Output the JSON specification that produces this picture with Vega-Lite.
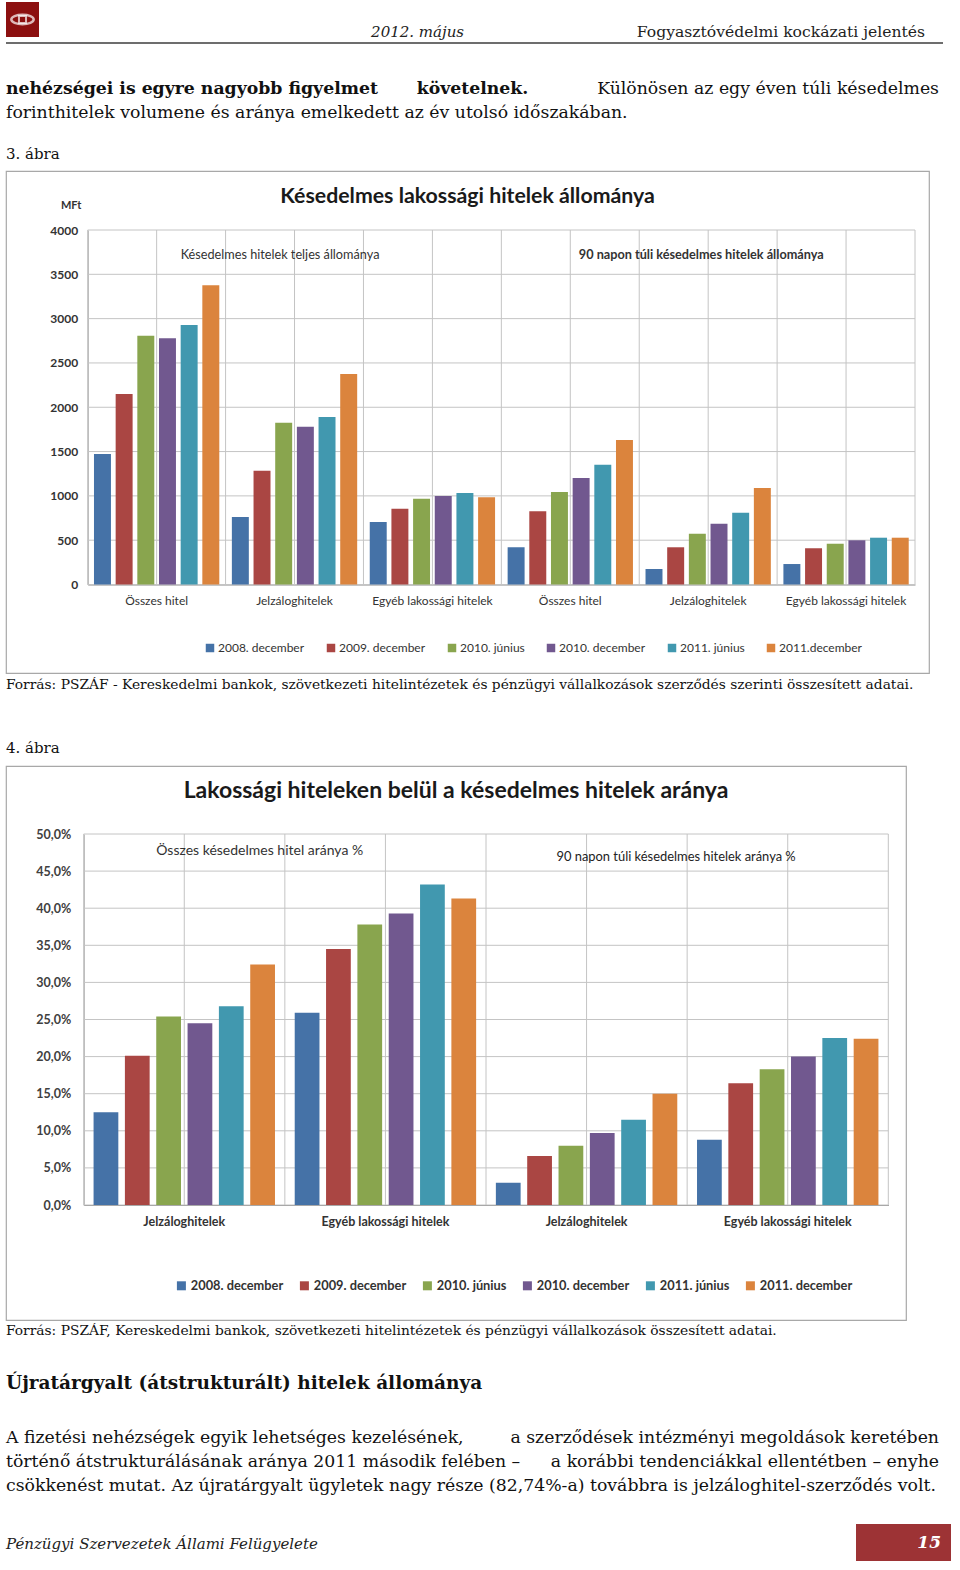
{
 "$schema": "https://vega.github.io/schema/vega-lite/v6.json",
 "background": "white",
 "padding": {"left": 5, "top": 2, "right": 5, "bottom": 4},
 "bounds": "flush",
 "spacing": 0,
 "resolve": {"scale": {"color": "independent", "xOffset": "independent"}, "legend": {"color": "independent"}},
 "config": {"view": {"stroke": null}},
 "datasets": {
  "bars1": [
   {"grp": "a|Összes hitel", "period": "2008. december", "value": 1473},
   {"grp": "a|Összes hitel", "period": "2009. december", "value": 2150},
   {"grp": "a|Összes hitel", "period": "2010. június", "value": 2808},
   {"grp": "a|Összes hitel", "period": "2010. december", "value": 2779},
   {"grp": "a|Összes hitel", "period": "2011. június", "value": 2929},
   {"grp": "a|Összes hitel", "period": "2011.december", "value": 3377},
   {"grp": "b|Jelzáloghitelek", "period": "2008. december", "value": 762},
   {"grp": "b|Jelzáloghitelek", "period": "2009. december", "value": 1284},
   {"grp": "b|Jelzáloghitelek", "period": "2010. június", "value": 1826},
   {"grp": "b|Jelzáloghitelek", "period": "2010. december", "value": 1781},
   {"grp": "b|Jelzáloghitelek", "period": "2011. június", "value": 1890},
   {"grp": "b|Jelzáloghitelek", "period": "2011.december", "value": 2376},
   {"grp": "c|Egyéb lakossági hitelek", "period": "2008. december", "value": 705},
   {"grp": "c|Egyéb lakossági hitelek", "period": "2009. december", "value": 856},
   {"grp": "c|Egyéb lakossági hitelek", "period": "2010. június", "value": 968},
   {"grp": "c|Egyéb lakossági hitelek", "period": "2010. december", "value": 999},
   {"grp": "c|Egyéb lakossági hitelek", "period": "2011. június", "value": 1033},
   {"grp": "c|Egyéb lakossági hitelek", "period": "2011.december", "value": 984},
   {"grp": "d|Összes hitel", "period": "2008. december", "value": 420},
   {"grp": "d|Összes hitel", "period": "2009. december", "value": 826},
   {"grp": "d|Összes hitel", "period": "2010. június", "value": 1044},
   {"grp": "d|Összes hitel", "period": "2010. december", "value": 1202},
   {"grp": "d|Összes hitel", "period": "2011. június", "value": 1352},
   {"grp": "d|Összes hitel", "period": "2011.december", "value": 1631},
   {"grp": "e|Jelzáloghitelek", "period": "2008. december", "value": 175},
   {"grp": "e|Jelzáloghitelek", "period": "2009. december", "value": 420},
   {"grp": "e|Jelzáloghitelek", "period": "2010. június", "value": 573},
   {"grp": "e|Jelzáloghitelek", "period": "2010. december", "value": 686},
   {"grp": "e|Jelzáloghitelek", "period": "2011. június", "value": 810},
   {"grp": "e|Jelzáloghitelek", "period": "2011.december", "value": 1089},
   {"grp": "f|Egyéb lakossági hitelek", "period": "2008. december", "value": 231},
   {"grp": "f|Egyéb lakossági hitelek", "period": "2009. december", "value": 409},
   {"grp": "f|Egyéb lakossági hitelek", "period": "2010. június", "value": 460},
   {"grp": "f|Egyéb lakossági hitelek", "period": "2010. december", "value": 499},
   {"grp": "f|Egyéb lakossági hitelek", "period": "2011. június", "value": 528},
   {"grp": "f|Egyéb lakossági hitelek", "period": "2011.december", "value": 528}
  ],
  "bars2": [
   {"grp": "a|Jelzáloghitelek", "period": "2008. december", "value": 12.5},
   {"grp": "a|Jelzáloghitelek", "period": "2009. december", "value": 20.1},
   {"grp": "a|Jelzáloghitelek", "period": "2010. június", "value": 25.4},
   {"grp": "a|Jelzáloghitelek", "period": "2010. december", "value": 24.5},
   {"grp": "a|Jelzáloghitelek", "period": "2011. június", "value": 26.8},
   {"grp": "a|Jelzáloghitelek", "period": "2011. december", "value": 32.4},
   {"grp": "b|Egyéb lakossági hitelek", "period": "2008. december", "value": 25.9},
   {"grp": "b|Egyéb lakossági hitelek", "period": "2009. december", "value": 34.5},
   {"grp": "b|Egyéb lakossági hitelek", "period": "2010. június", "value": 37.8},
   {"grp": "b|Egyéb lakossági hitelek", "period": "2010. december", "value": 39.3},
   {"grp": "b|Egyéb lakossági hitelek", "period": "2011. június", "value": 43.2},
   {"grp": "b|Egyéb lakossági hitelek", "period": "2011. december", "value": 41.3},
   {"grp": "c|Jelzáloghitelek", "period": "2008. december", "value": 3.0},
   {"grp": "c|Jelzáloghitelek", "period": "2009. december", "value": 6.6},
   {"grp": "c|Jelzáloghitelek", "period": "2010. június", "value": 8.0},
   {"grp": "c|Jelzáloghitelek", "period": "2010. december", "value": 9.7},
   {"grp": "c|Jelzáloghitelek", "period": "2011. június", "value": 11.5},
   {"grp": "c|Jelzáloghitelek", "period": "2011. december", "value": 15.0},
   {"grp": "d|Egyéb lakossági hitelek", "period": "2008. december", "value": 8.8},
   {"grp": "d|Egyéb lakossági hitelek", "period": "2009. december", "value": 16.4},
   {"grp": "d|Egyéb lakossági hitelek", "period": "2010. június", "value": 18.3},
   {"grp": "d|Egyéb lakossági hitelek", "period": "2010. december", "value": 20.0},
   {"grp": "d|Egyéb lakossági hitelek", "period": "2011. június", "value": 22.5},
   {"grp": "d|Egyéb lakossági hitelek", "period": "2011. december", "value": 22.4}
  ],
  "grid1h": [{"value": 0}, {"value": 500}, {"value": 1000}, {"value": 1500}, {"value": 2000}, {"value": 2500}, {"value": 3000}, {"value": 3500}, {"value": 4000}],
  "grid1v": [{"k": 0}, {"k": 1}, {"k": 2}, {"k": 3}, {"k": 4}, {"k": 5}, {"k": 6}, {"k": 7}, {"k": 8}, {"k": 9}, {"k": 10}, {"k": 11}, {"k": 12}],
  "grid2h": [{"value": 0}, {"value": 5}, {"value": 10}, {"value": 15}, {"value": 20}, {"value": 25}, {"value": 30}, {"value": 35}, {"value": 40}, {"value": 45}, {"value": 50}],
  "grid2v": [{"k": 0}, {"k": 1}, {"k": 2}, {"k": 3}, {"k": 4}, {"k": 5}, {"k": 6}, {"k": 7}, {"k": 8}]
 },
 "vconcat": [
  {
   "hconcat": [
    {
     "width": 33, "height": 35,
     "view": {"fill": "#8c1010", "stroke": null},
     "data": {"values": [{"s": "logo"}]},
     "layer": [
      {"mark": {"type": "point", "shape": "M -1 0 A 1 0.42 0 1 0 1 0 A 1 0.42 0 1 0 -1 0 Z", "size": 500, "filled": false, "color": "white", "strokeWidth": 2.5}, "encoding": {}},
      {"mark": {"type": "point", "shape": "square", "size": 50, "filled": false, "color": "white", "strokeWidth": 2}, "encoding": {}}
     ]
    },
    {
     "width": 425, "height": 35,
     "data": {"values": [{"t": "2012. május"}]},
     "mark": {"type": "text", "align": "right", "baseline": "alphabetic", "font": "DejaVu Serif", "fontStyle": "italic", "fontSize": 15, "color": "#222"},
     "encoding": {
      "x": {"datum": 1, "type": "quantitative", "scale": {"domain": [0, 1]}, "axis": null},
      "y": {"datum": 0, "type": "quantitative", "scale": {"domain": [0, 1]}, "axis": null},
      "text": {"field": "t"}
     }
    },
    {
     "width": 461, "height": 35,
     "data": {"values": [{"t": "Fogyasztóvédelmi kockázati jelentés"}]},
     "mark": {"type": "text", "align": "right", "baseline": "alphabetic", "font": "DejaVu Serif", "fontSize": 15.6, "color": "#222"},
     "encoding": {
      "x": {"datum": 1, "type": "quantitative", "scale": {"domain": [0, 1]}, "axis": null},
      "y": {"datum": 0, "type": "quantitative", "scale": {"domain": [0, 1]}, "axis": null},
      "text": {"field": "t"}
     }
    }
   ],
   "spacing": 0,
   "bounds": "flush"
  },
  {
   "width": 10, "height": 35,
   "data": {"values": [{"s": 0}]},
   "mark": {"type": "point", "opacity": 0},
   "encoding": {}
  },
  {
   "width": 937, "height": 6,
   "data": {"values": [{"d": 0}]},
   "mark": {"type": "rule", "color": "#3c3c3c", "strokeWidth": 1.6},
   "encoding": {"y": {"datum": 0, "type": "quantitative", "scale": {"domain": [0, 1]}, "axis": null}}
  },
  {
   "width": 933, "height": 51,
   "layer": [
    {
     "data": {"values": [{"t": "nehézségei is egyre nagyobb figyelmet"}]},
     "mark": {"type": "text", "align": "left", "baseline": "alphabetic", "font": "DejaVu Serif", "fontWeight": "bold", "fontSize": 17.3, "color": "#111"},
     "encoding": {
      "x": {"datum": 0, "type": "quantitative", "scale": {"domain": [0, 1]}, "axis": null},
      "y": {"datum": 0, "type": "quantitative", "scale": {"domain": [0, 1]}, "axis": null},
      "text": {"field": "t"}
     }
    },
    {
     "data": {"values": [{"t": "követelnek."}]},
     "mark": {"type": "text", "align": "center", "baseline": "alphabetic", "font": "DejaVu Serif", "fontWeight": "bold", "fontSize": 17.3, "color": "#111"},
     "encoding": {
      "y": {"datum": 0, "type": "quantitative", "scale": {"domain": [0, 1]}, "axis": null},
      "text": {"field": "t"}
     }
    },
    {
     "data": {"values": [{"t": "Különösen az egy éven túli késedelmes"}]},
     "mark": {"type": "text", "align": "right", "baseline": "alphabetic", "font": "DejaVu Serif", "fontSize": 17.3, "color": "#111"},
     "encoding": {
      "x": {"datum": 1, "type": "quantitative", "scale": {"domain": [0, 1]}, "axis": null},
      "y": {"datum": 0, "type": "quantitative", "scale": {"domain": [0, 1]}, "axis": null},
      "text": {"field": "t"}
     }
    }
   ]
  },
  {
   "width": 933, "height": 24,
   "data": {"values": [{"t": "forinthitelek volumene és aránya emelkedett az év utolsó időszakában."}]},
   "mark": {"type": "text", "align": "left", "baseline": "alphabetic", "font": "DejaVu Serif", "fontSize": 17.3, "color": "#111"},
   "encoding": {
    "x": {"datum": 0, "type": "quantitative", "scale": {"domain": [0, 1]}, "axis": null},
    "y": {"datum": 0, "type": "quantitative", "scale": {"domain": [0, 1]}, "axis": null},
    "text": {"field": "t"}
   }
  },
  {
   "width": 933, "height": 41,
   "data": {"values": [{"t": "3. ábra"}]},
   "mark": {"type": "text", "align": "left", "baseline": "alphabetic", "font": "DejaVu Serif", "fontSize": 15, "color": "#111"},
   "encoding": {
    "x": {"datum": 0, "type": "quantitative", "scale": {"domain": [0, 1]}, "axis": null},
    "y": {"datum": 0, "type": "quantitative", "scale": {"domain": [0, 1]}, "axis": null},
    "text": {"field": "t"}
   }
  },
  {
   "width": 10, "height": 12,
   "data": {"values": [{"s": 0}]},
   "mark": {"type": "point", "opacity": 0},
   "encoding": {}
  },
  {
   "width": 923, "height": 502,
   "view": {"stroke": "#a8a8a8", "strokeWidth": 1.2},
   "resolve": {"scale": {"x": "independent"}},
   "layer": [
    {
     "data": {"name": "grid1h"},
     "mark": {"type": "rule", "color": "#c4c4c4", "strokeWidth": 1},
     "encoding": {
      "y": {"field": "value", "type": "quantitative", "scale": {"domain": [0, 4000], "range": [413.5, 59], "nice": false}},
      "x": {"datum": 0, "type": "quantitative", "scale": {"domain": [0, 12], "range": [81.7, 909]}, "axis": null},
      "x2": {"datum": 12}
     }
    },
    {
     "data": {"name": "grid1v"},
     "mark": {"type": "rule", "color": "#c4c4c4", "strokeWidth": 1},
     "encoding": {
      "x": {"field": "k", "type": "quantitative", "scale": {"domain": [0, 12], "range": [81.7, 909]}, "axis": null},
      "y": {"datum": 0, "type": "quantitative"},
      "y2": {"datum": 4000}
     }
    },
    {
     "data": {"name": "bars1"},
     "mark": {"type": "bar"},
     "encoding": {
      "x": {"field": "grp", "type": "nominal", "scale": {"domain": ["a|Összes hitel", "b|Jelzáloghitelek", "c|Egyéb lakossági hitelek", "d|Összes hitel", "e|Jelzáloghitelek", "f|Egyéb lakossági hitelek"], "range": [81.7, 909], "paddingInner": 0, "paddingOuter": 0},
       "axis": {"orient": "bottom", "offset": -88.5, "title": null, "labelExpr": "split(datum.label, '|')[1]", "labelAngle": 0, "ticks": false, "domain": true, "domainColor": "#8c8c8c", "grid": false, "labelFont": "Lato", "labelFontSize": 12, "labelColor": "#333", "labelPadding": 11}},
      "xOffset": {"field": "period", "type": "nominal", "sort": null, "scale": {"paddingInner": 0.217, "paddingOuter": 0.29}},
      "y": {"field": "value", "type": "quantitative", "scale": {"domain": [0, 4000], "range": [413.5, 59], "nice": false},
       "axis": {"orient": "left", "offset": -81.7, "values": [0, 500, 1000, 1500, 2000, 2500, 3000, 3500, 4000], "format": "d", "grid": false, "ticks": false, "domain": true, "domainColor": "#a0a0a0", "labelFont": "Lato", "labelFontSize": 12, "labelFontWeight": "bold", "labelColor": "#333", "labelPadding": 10, "title": "MFt", "titleAngle": 0, "titleX": -17, "titleY": 34, "titleAlign": "center", "titleBaseline": "middle", "titleFont": "Lato", "titleFontSize": 11, "titleFontWeight": "bold", "titleColor": "#333"}},
      "color": {"field": "period", "type": "nominal",
       "scale": {"domain": ["2008. december", "2009. december", "2010. június", "2010. december", "2011. június", "2011.december"], "range": ["#4572a7", "#aa4643", "#89a54e", "#71588f", "#4198af", "#db843d"]},
       "legend": {"orient": "none", "legendX": 198, "legendY": 471, "direction": "horizontal", "title": null, "symbolType": "square", "symbolSize": 72, "symbolStrokeWidth": 0, "labelFont": "Lato", "labelFontSize": 12, "labelColor": "#333", "labelOffset": 2, "columnPadding": 20, "padding": 0}}
     }
    },
    {
     "data": {"values": [{"t": "Késedelmes lakossági hitelek állománya"}]},
     "mark": {"type": "text", "font": "Lato", "fontSize": 21.3, "fontWeight": "bold", "color": "#1a1a1a", "baseline": "middle"},
     "encoding": {
      "y": {"datum": 4372, "type": "quantitative"},
      "text": {"field": "t"}
     }
    },
    {
     "data": {"values": [{"t": "Késedelmes hitelek teljes állománya"}]},
     "mark": {"type": "text", "font": "Lato", "fontSize": 12.7, "color": "#333"},
     "encoding": {
      "x": {"datum": 2.79, "type": "quantitative", "scale": {"domain": [0, 12], "range": [81.7, 909]}, "axis": null},
      "y": {"datum": 3719, "type": "quantitative"},
      "text": {"field": "t"}
     }
    },
    {
     "data": {"values": [{"t": "90 napon túli késedelmes hitelek állománya"}]},
     "mark": {"type": "text", "font": "Lato", "fontSize": 12.7, "fontWeight": "bold", "color": "#333"},
     "encoding": {
      "x": {"datum": 8.9, "type": "quantitative", "scale": {"domain": [0, 12], "range": [81.7, 909]}, "axis": null},
      "y": {"datum": 3719, "type": "quantitative"},
      "text": {"field": "t"}
     }
    }
   ]
  },
  {
   "width": 933, "height": 16,
   "data": {"values": [{"t": "Forrás: PSZÁF - Kereskedelmi bankok, szövetkezeti hitelintézetek és pénzügyi vállalkozások szerződés szerinti összesített adatai."}]},
   "mark": {"type": "text", "align": "left", "baseline": "alphabetic", "font": "DejaVu Serif", "fontSize": 13.8, "color": "#111"},
   "encoding": {
    "x": {"datum": 0, "type": "quantitative", "scale": {"domain": [0, 1]}, "axis": null},
    "y": {"datum": 0, "type": "quantitative", "scale": {"domain": [0, 1]}, "axis": null},
    "text": {"field": "t"}
   }
  },
  {
   "width": 933, "height": 64,
   "data": {"values": [{"t": "4. ábra"}]},
   "mark": {"type": "text", "align": "left", "baseline": "alphabetic", "font": "DejaVu Serif", "fontSize": 15, "color": "#111"},
   "encoding": {
    "x": {"datum": 0, "type": "quantitative", "scale": {"domain": [0, 1]}, "axis": null},
    "y": {"datum": 0, "type": "quantitative", "scale": {"domain": [0, 1]}, "axis": null},
    "text": {"field": "t"}
   }
  },
  {
   "width": 10, "height": 13,
   "data": {"values": [{"s": 0}]},
   "mark": {"type": "point", "opacity": 0},
   "encoding": {}
  },
  {
   "width": 900, "height": 554,
   "view": {"stroke": "#a8a8a8", "strokeWidth": 1.2},
   "resolve": {"scale": {"x": "independent"}},
   "layer": [
    {
     "data": {"name": "grid2h"},
     "mark": {"type": "rule", "color": "#c4c4c4", "strokeWidth": 1},
     "encoding": {
      "y": {"field": "value", "type": "quantitative", "scale": {"domain": [0, 50], "range": [439, 68], "nice": false}},
      "x": {"datum": 0, "type": "quantitative", "scale": {"domain": [0, 8], "range": [77.7, 882.3]}, "axis": null},
      "x2": {"datum": 8}
     }
    },
    {
     "data": {"name": "grid2v"},
     "mark": {"type": "rule", "color": "#c4c4c4", "strokeWidth": 1},
     "encoding": {
      "x": {"field": "k", "type": "quantitative", "scale": {"domain": [0, 8], "range": [77.7, 882.3]}, "axis": null},
      "y": {"datum": 0, "type": "quantitative"},
      "y2": {"datum": 50}
     }
    },
    {
     "data": {"name": "bars2"},
     "mark": {"type": "bar"},
     "encoding": {
      "x": {"field": "grp", "type": "nominal", "scale": {"domain": ["a|Jelzáloghitelek", "b|Egyéb lakossági hitelek", "c|Jelzáloghitelek", "d|Egyéb lakossági hitelek"], "range": [77.7, 882.3], "paddingInner": 0, "paddingOuter": 0},
       "axis": {"orient": "bottom", "offset": -115, "title": null, "labelExpr": "split(datum.label, '|')[1]", "labelAngle": 0, "ticks": false, "domain": true, "domainColor": "#8c8c8c", "grid": false, "labelFont": "Lato", "labelFontSize": 12.5, "labelFontWeight": "bold", "labelColor": "#333", "labelPadding": 10}},
      "xOffset": {"field": "period", "type": "nominal", "sort": null, "scale": {"paddingInner": 0.21, "paddingOuter": 0.315}},
      "y": {"field": "value", "type": "quantitative", "scale": {"domain": [0, 50], "range": [439, 68], "nice": false},
       "axis": {"orient": "left", "offset": -77.7, "values": [0, 5, 10, 15, 20, 25, 30, 35, 40, 45, 50], "labelExpr": "replace(format(datum.value, '.1f'), '.', ',') + '%'", "grid": false, "ticks": false, "domain": true, "domainColor": "#a0a0a0", "labelFont": "Lato", "labelFontSize": 12.5, "labelFontWeight": "bold", "labelColor": "#404040", "labelPadding": 13, "title": null}},
      "color": {"field": "period", "type": "nominal",
       "scale": {"domain": ["2008. december", "2009. december", "2010. június", "2010. december", "2011. június", "2011. december"], "range": ["#4572a7", "#aa4643", "#89a54e", "#71588f", "#4198af", "#db843d"]},
       "legend": {"orient": "none", "legendX": 169, "legendY": 513, "direction": "horizontal", "title": null, "symbolType": "square", "symbolSize": 81, "symbolStrokeWidth": 0, "labelFont": "Lato", "labelFontSize": 12.8, "labelFontWeight": "bold", "labelColor": "#333", "labelOffset": 3, "columnPadding": 14, "padding": 0}}
     }
    },
    {
     "data": {"values": [{"t": "Lakossági hiteleken belül a késedelmes hitelek aránya"}]},
     "mark": {"type": "text", "font": "Lato", "fontSize": 23, "fontWeight": "bold", "color": "#1a1a1a", "baseline": "middle"},
     "encoding": {
      "y": {"datum": 55.8, "type": "quantitative"},
      "text": {"field": "t"}
     }
    },
    {
     "data": {"values": [{"t": "Összes késedelmes hitel aránya %"}]},
     "mark": {"type": "text", "font": "Lato", "fontSize": 14, "color": "#333"},
     "encoding": {
      "x": {"datum": 1.75, "type": "quantitative", "scale": {"domain": [0, 8], "range": [77.7, 882.3]}, "axis": null},
      "y": {"datum": 47.7, "type": "quantitative"},
      "text": {"field": "t"}
     }
    },
    {
     "data": {"values": [{"t": "90 napon túli késedelmes hitelek aránya %"}]},
     "mark": {"type": "text", "font": "Lato", "fontSize": 12.9, "color": "#222"},
     "encoding": {
      "x": {"datum": 5.89, "type": "quantitative", "scale": {"domain": [0, 8], "range": [77.7, 882.3]}, "axis": null},
      "y": {"datum": 46.9, "type": "quantitative"},
      "text": {"field": "t"}
     }
    }
   ]
  },
  {
   "width": 933, "height": 15,
   "data": {"values": [{"t": "Forrás: PSZÁF, Kereskedelmi bankok, szövetkezeti hitelintézetek és pénzügyi vállalkozások összesített adatai."}]},
   "mark": {"type": "text", "align": "left", "baseline": "alphabetic", "font": "DejaVu Serif", "fontSize": 13.8, "color": "#111"},
   "encoding": {
    "x": {"datum": 0, "type": "quantitative", "scale": {"domain": [0, 1]}, "axis": null},
    "y": {"datum": 0, "type": "quantitative", "scale": {"domain": [0, 1]}, "axis": null},
    "text": {"field": "t"}
   }
  },
  {
   "width": 933, "height": 54,
   "data": {"values": [{"t": "Újratárgyalt (átstrukturált) hitelek állománya"}]},
   "mark": {"type": "text", "align": "left", "baseline": "alphabetic", "font": "DejaVu Serif", "fontWeight": "bold", "fontSize": 18.5, "color": "#111"},
   "encoding": {
    "x": {"datum": 0, "type": "quantitative", "scale": {"domain": [0, 1]}, "axis": null},
    "y": {"datum": 0, "type": "quantitative", "scale": {"domain": [0, 1]}, "axis": null},
    "text": {"field": "t"}
   }
  },
  {
   "width": 933, "height": 54,
   "layer": [
    {
     "data": {"values": [{"t": "A fizetési nehézségek egyik lehetséges kezelésének,"}]},
     "mark": {"type": "text", "align": "left", "baseline": "alphabetic", "font": "DejaVu Serif", "fontSize": 17.3, "color": "#111"},
     "encoding": {
      "x": {"datum": 0, "type": "quantitative", "scale": {"domain": [0, 1]}, "axis": null},
      "y": {"datum": 0, "type": "quantitative", "scale": {"domain": [0, 1]}, "axis": null},
      "text": {"field": "t"}
     }
    },
    {
     "data": {"values": [{"t": "a szerződések intézményi megoldások keretében"}]},
     "mark": {"type": "text", "align": "right", "baseline": "alphabetic", "font": "DejaVu Serif", "fontSize": 17.3, "color": "#111"},
     "encoding": {
      "x": {"datum": 1, "type": "quantitative", "scale": {"domain": [0, 1]}, "axis": null},
      "y": {"datum": 0, "type": "quantitative", "scale": {"domain": [0, 1]}, "axis": null},
      "text": {"field": "t"}
     }
    }
   ]
  },
  {
   "width": 933, "height": 24,
   "layer": [
    {
     "data": {"values": [{"t": "történő átstrukturálásának aránya 2011 második felében –"}]},
     "mark": {"type": "text", "align": "left", "baseline": "alphabetic", "font": "DejaVu Serif", "fontSize": 17.3, "color": "#111"},
     "encoding": {
      "x": {"datum": 0, "type": "quantitative", "scale": {"domain": [0, 1]}, "axis": null},
      "y": {"datum": 0, "type": "quantitative", "scale": {"domain": [0, 1]}, "axis": null},
      "text": {"field": "t"}
     }
    },
    {
     "data": {"values": [{"t": "a korábbi tendenciákkal ellentétben – enyhe"}]},
     "mark": {"type": "text", "align": "right", "baseline": "alphabetic", "font": "DejaVu Serif", "fontSize": 17.3, "color": "#111"},
     "encoding": {
      "x": {"datum": 1, "type": "quantitative", "scale": {"domain": [0, 1]}, "axis": null},
      "y": {"datum": 0, "type": "quantitative", "scale": {"domain": [0, 1]}, "axis": null},
      "text": {"field": "t"}
     }
    }
   ]
  },
  {
   "width": 933, "height": 24,
   "data": {"values": [{"t": "csökkenést mutat. Az újratárgyalt ügyletek nagy része (82,74%-a) továbbra is jelzáloghitel-szerződés volt."}]},
   "mark": {"type": "text", "align": "left", "baseline": "alphabetic", "font": "DejaVu Serif", "fontSize": 17.3, "color": "#111"},
   "encoding": {
    "x": {"datum": 0, "type": "quantitative", "scale": {"domain": [0, 1]}, "axis": null},
    "y": {"datum": 0, "type": "quantitative", "scale": {"domain": [0, 1]}, "axis": null},
    "text": {"field": "t"}
   }
  },
  {
   "width": 10, "height": 33,
   "data": {"values": [{"s": 0}]},
   "mark": {"type": "point", "opacity": 0},
   "encoding": {}
  },
  {
   "hconcat": [
    {
     "width": 850, "height": 25,
     "data": {"values": [{"t": "Pénzügyi Szervezetek Állami Felügyelete"}]},
     "mark": {"type": "text", "align": "left", "baseline": "alphabetic", "font": "DejaVu Serif", "fontStyle": "italic", "fontSize": 15, "color": "#222"},
     "encoding": {
      "x": {"datum": 0, "type": "quantitative", "scale": {"domain": [0, 1]}, "axis": null},
      "y": {"datum": 0, "type": "quantitative", "scale": {"domain": [0, 1]}, "axis": null},
      "text": {"field": "t"}
     }
    },
    {
     "width": 95, "height": 37,
     "view": {"fill": "#9d3335", "stroke": null},
     "data": {"values": [{"t": "15"}]},
     "mark": {"type": "text", "align": "right", "baseline": "middle", "dx": -10, "font": "DejaVu Serif", "fontStyle": "italic", "fontWeight": "bold", "fontSize": 17, "color": "white"},
     "encoding": {
      "x": {"datum": 1, "type": "quantitative", "scale": {"domain": [0, 1]}, "axis": null},
      "text": {"field": "t"}
     }
    }
   ],
   "spacing": 0,
   "bounds": "flush"
  }
 ]
}
